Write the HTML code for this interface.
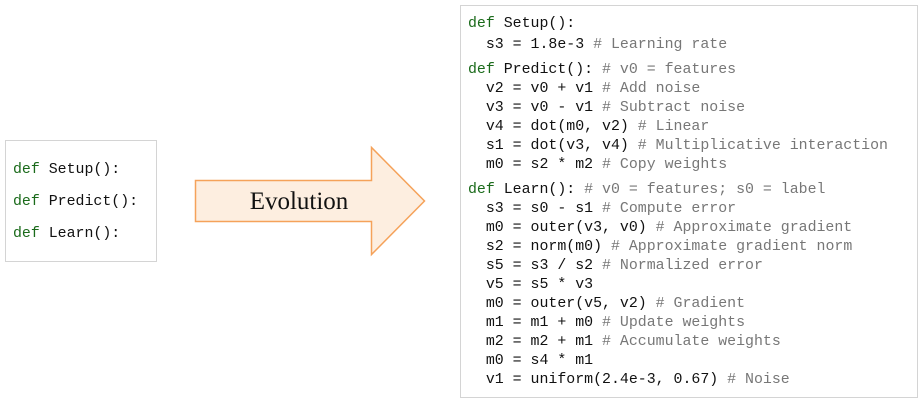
<!DOCTYPE html>
<html><head><meta charset="utf-8"><style>
body{margin:0;width:921px;height:402px;background:#fff;position:relative;overflow:hidden}
.box{position:absolute;border:1.5px solid #d4d4d4;box-sizing:border-box}
.l{position:absolute;font-family:"Liberation Mono",monospace;font-size:14.9px;line-height:16px;white-space:pre;color:#111}
.k{color:#1a6a1a}.c{color:#777}
</style></head><body>
<div class="box" style="left:5px;top:140px;width:152px;height:122px"></div>
<div class="l" style="left:13px;top:162px"><span class="k">def</span> Setup():</div>
<div class="l" style="left:13px;top:194px"><span class="k">def</span> Predict():</div>
<div class="l" style="left:13px;top:226px"><span class="k">def</span> Learn():</div>
<svg style="position:absolute;left:0;top:0" width="921" height="402">
<polygon points="195.5,180.5 371.5,180.5 371.5,147.5 424.5,201 371.5,254.5 371.5,221.5 195.5,221.5" fill="#fdeee0" stroke="#f5a25a" stroke-width="1.5"/>
<text x="299" y="209" text-anchor="middle" font-family="Liberation Serif,serif" font-size="25" fill="#111">Evolution</text>
</svg>
<div class="box" style="left:460px;top:5px;width:458px;height:393px"></div>
<div class="l" style="left:468px;top:16px"><span class="k">def</span> Setup():</div>
<div class="l" style="left:468px;top:37px">  s3 = 1.8e-3 <span class="c"># Learning rate</span></div>
<div class="l" style="left:468px;top:62px"><span class="k">def</span> Predict(): <span class="c"># v0 = features</span></div>
<div class="l" style="left:468px;top:81px">  v2 = v0 + v1 <span class="c"># Add noise</span></div>
<div class="l" style="left:468px;top:100px">  v3 = v0 - v1 <span class="c"># Subtract noise</span></div>
<div class="l" style="left:468px;top:119px">  v4 = dot(m0, v2) <span class="c"># Linear</span></div>
<div class="l" style="left:468px;top:138px">  s1 = dot(v3, v4) <span class="c"># Multiplicative interaction</span></div>
<div class="l" style="left:468px;top:157px">  m0 = s2 * m2 <span class="c"># Copy weights</span></div>
<div class="l" style="left:468px;top:182px"><span class="k">def</span> Learn(): <span class="c"># v0 = features; s0 = label</span></div>
<div class="l" style="left:468px;top:201px">  s3 = s0 - s1 <span class="c"># Compute error</span></div>
<div class="l" style="left:468px;top:220px">  m0 = outer(v3, v0) <span class="c"># Approximate gradient</span></div>
<div class="l" style="left:468px;top:239px">  s2 = norm(m0) <span class="c"># Approximate gradient norm</span></div>
<div class="l" style="left:468px;top:258px">  s5 = s3 / s2 <span class="c"># Normalized error</span></div>
<div class="l" style="left:468px;top:277px">  v5 = s5 * v3</div>
<div class="l" style="left:468px;top:296px">  m0 = outer(v5, v2) <span class="c"># Gradient</span></div>
<div class="l" style="left:468px;top:315px">  m1 = m1 + m0 <span class="c"># Update weights</span></div>
<div class="l" style="left:468px;top:334px">  m2 = m2 + m1 <span class="c"># Accumulate weights</span></div>
<div class="l" style="left:468px;top:353px">  m0 = s4 * m1</div>
<div class="l" style="left:468px;top:372px">  v1 = uniform(2.4e-3, 0.67) <span class="c"># Noise</span></div>
</body></html>
